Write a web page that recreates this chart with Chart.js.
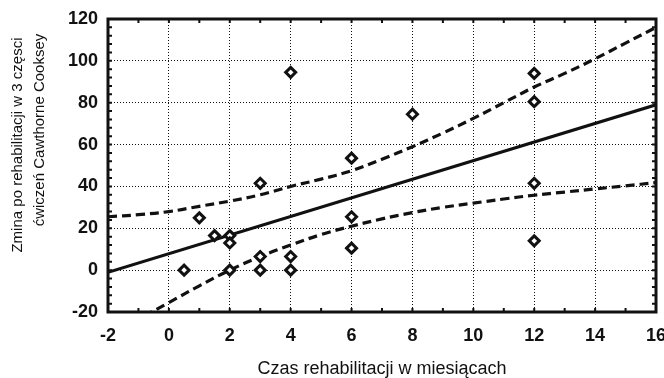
<!DOCTYPE html>
<html>
<head>
<meta charset="utf-8">
<script src="https://cdn.jsdelivr.net/npm/chart.js@4.4.1/dist/chart.umd.min.js"></script>
<style>
  html, body { margin: 0; padding: 0; background: #fff; }
  #chart { display: block; }
</style>
</head>
<body>
<canvas id="chart" width="664" height="378"></canvas>
<script>
// Observed points: rehabilitation time (months) vs change in score
const pointX = [0.5, 1, 1.5, 2, 2, 2, 3, 3, 3, 4, 4, 4, 6, 6, 6, 8, 12, 12, 12, 12];
const pointY = [0, 25, 16.5, 16.5, 13, 0, 41.5, 6.5, 0, 94.5, 6.5, 0, 53.5, 25.5, 10.5, 74.5, 94, 80.5, 41.5, 14];

// Regression line ends
const fitX = [-2, 16];
const fitY = [-1, 79];

// Confidence bands read at each month
const bandX = [-2, -1, 0, 1, 2, 3, 4, 5, 6, 7, 8, 9, 10, 11, 12, 13, 14, 15, 16];
const upperBand = [25.5, 26.5, 28, 30.5, 33, 36, 40, 43.5, 47.5, 53, 59, 65.5, 72.5, 80, 87.5, 94, 101, 108.5, 116];
const lowerBand = [-32, -23.5, -15.5, -7.5, 0, 6.5, 12, 17, 21, 24.5, 27.5, 30, 32, 34, 35.8, 37.3, 38.8, 40.3, 41.8];

const xTitle = 'Czas rehabilitacji w miesiącach';
const yTitleLines = ['Zmina po rehabilitacji w 3 częsci', 'ćwiczeń Cawthorne Cooksey'];

const FONT = '"Liberation Sans", Arial, sans-serif';

function toXY(xs, ys) {
  return xs.map((x, i) => ({ x: x, y: ys[i] }));
}

// frame + small inner tick marks, like the original plot
const framePlugin = {
  id: 'frame',
  afterDatasetsDraw(chart) {
    const ctx = chart.ctx;
    const a = chart.chartArea;
    const xs = chart.scales.x;
    const ys = chart.scales.y;
    ctx.save();
    ctx.strokeStyle = '#111';
    ctx.lineWidth = 2;
    ctx.beginPath();
    for (let v = -2; v <= 16; v += 1) {
      const px = xs.getPixelForValue(v);
      ctx.moveTo(px, a.bottom); ctx.lineTo(px, a.bottom - 4);
      ctx.moveTo(px, a.top); ctx.lineTo(px, a.top + 4);
    }
    for (let v = -20; v <= 120; v += 4) {
      const py = ys.getPixelForValue(v);
      ctx.moveTo(a.left, py); ctx.lineTo(a.left + 4, py);
      ctx.moveTo(a.right, py); ctx.lineTo(a.right - 4, py);
    }
    ctx.stroke();
    ctx.lineWidth = 3;
    ctx.strokeRect(a.left, a.top, a.right - a.left, a.bottom - a.top);
    ctx.restore();
  },
  afterDraw(chart) {
    const ctx = chart.ctx;
    ctx.save();
    ctx.fillStyle = '#111';
    ctx.font = '15px ' + FONT;
    ctx.textAlign = 'center';
    ctx.textBaseline = 'middle';
    const pos = [[18, 145], [40, 130]];
    yTitleLines.forEach((line, i) => {
      ctx.save();
      ctx.translate(pos[i][0], pos[i][1]);
      ctx.rotate(-Math.PI / 2);
      ctx.fillText(line, 0, 0);
      ctx.restore();
    });
    ctx.restore();
  }
};

const ctx = document.getElementById('chart').getContext('2d');
new Chart(ctx, {
  type: 'scatter',
  data: {
    datasets: [
      {
        label: 'punkty',
        data: toXY(pointX, pointY),
        pointStyle: 'rectRot',
        pointRadius: 5,
        pointBorderWidth: 3,
        pointBorderColor: '#111',
        pointBackgroundColor: '#fff',
        order: 0
      },
      {
        type: 'line',
        label: 'regresja',
        data: toXY(fitX, fitY),
        borderColor: '#111',
        borderWidth: 3,
        pointRadius: 0,
        fill: false,
        order: 1
      },
      {
        type: 'line',
        label: 'górna granica',
        data: toXY(bandX, upperBand),
        borderColor: '#111',
        borderWidth: 3.2,
        borderDash: [9, 5],
        tension: 0.4,
        pointRadius: 0,
        fill: false,
        order: 1
      },
      {
        type: 'line',
        label: 'dolna granica',
        data: toXY(bandX, lowerBand),
        borderColor: '#111',
        borderWidth: 3.2,
        borderDash: [9, 5],
        tension: 0.4,
        pointRadius: 0,
        fill: false,
        order: 1
      }
    ]
  },
  options: {
    responsive: false,
    animation: false,
    layout: { padding: { left: 0, right: 8, top: 19, bottom: 0 } },
    plugins: {
      legend: { display: false },
      tooltip: { enabled: false }
    },
    scales: {
      x: {
        type: 'linear',
        min: -2,
        max: 16,
        afterFit(scale) {
          scale.height = 66;
          scale.paddingLeft = 0;
          scale.paddingRight = 0;
        },
        ticks: {
          stepSize: 2,
          color: '#111',
          padding: 13,
          font: { family: FONT, size: 18, weight: 'bold' }
        },
        grid: { color: '#111', lineWidth: 1, drawTicks: false },
        border: { display: false, dash: [1, 2] },
        title: {
          display: true,
          text: xTitle,
          color: '#111',
          padding: { top: 0, bottom: -2 },
          font: { family: FONT, size: 18 }
        }
      },
      y: {
        type: 'linear',
        min: -20,
        max: 120,
        afterFit(scale) {
          scale.width = 108;
          scale.paddingTop = 0;
          scale.paddingBottom = 0;
        },
        ticks: {
          stepSize: 20,
          color: '#111',
          padding: 10,
          font: { family: FONT, size: 18, weight: 'bold' }
        },
        grid: { color: '#111', lineWidth: 1, drawTicks: false },
        border: { display: false, dash: [1, 2] }
      }
    }
  },
  plugins: [framePlugin]
});
</script>
</body>
</html>
